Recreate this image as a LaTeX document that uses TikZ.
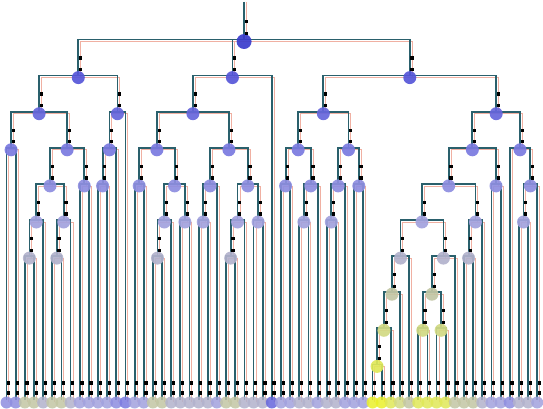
\documentclass[tikz,border=0pt]{standalone}
\usetikzlibrary{calc}
\definecolor{edgec}{HTML}{2A606C}
\definecolor{shadc}{HTML}{F0B0A2}
\definecolor{d0}{HTML}{3A3CCC}
\definecolor{d1}{HTML}{5656D8}
\definecolor{d2}{HTML}{6666DC}
\definecolor{d3}{HTML}{7A7AE0}
\definecolor{d4}{HTML}{8E8EE0}
\definecolor{d5}{HTML}{A2A2DE}
\definecolor{d6}{HTML}{B2B2CC}
\definecolor{d7}{HTML}{C2C6A4}
\definecolor{d8}{HTML}{D2DA84}
\definecolor{d9}{HTML}{E0E858}
\definecolor{d10}{HTML}{EAF02A}
\def\internals{root/244.05/0, A/78.3/1, A1/39.1/2, a3/11.1/3, a4/67.13/3, a5/49.98/4, a6/84.28/4, a7/36.25/5, a8/63.7/5, a9/29.4/6, a10/56.85/6, A2/117.45/2, a11/109.45/3, a12/102.6/4, B/232.4/1, B1/192.9/2, b1/156.9/3, b3/139.2/4, b4/174.6/4, b5/164.35/5, b6/184.9/5, b7/157.5/6, b2/228.95/3, b8/210.1/4, b10/203.2/5, b9/247.8/4, b11/237.55/5, b13/230.7/6, b12/258.1/5, C/409.8/1, C1/323.35/2, c1/298.2/3, c3/285.6/4, c4/310.75/4, c5/303.9/5, c2/348.5/3, c6/338.2/4, c8/331.3/5, c7/358.8/4, C2/496.2/2, c9/472.35/3, c11/448.7/4, c13/421.95/5, c15/400.5/6, c17/391.95/7, c18/383.95/8, c19/377.1/9, c16/443.4/6, c20/431.95/7, c21/422.8/8, c22/441.1/8, c14/475.45/5, c23/468.6/6, c12/496.0/4, c10/520.05/3, c24/530.35/4, c25/523.5/5}
\def\leafdepths{4,4,7,7,6,7,7,6,5,5,5,5,4,3,5,5,7,7,6,6,6,6,6,5,7,7,6,6,6,2,5,5,6,6,5,6,6,5,5,5,10,10,9,8,7,9,9,9,9,7,7,7,6,5,5,4,6,6,5}
\def\edges{root/A, root/B, root/C, A/A1, A/A2, A1/a3, A1/a4, a3/L0, a3/L1, a4/a5, a4/a6, a5/a7, a5/a8, a7/a9, a7/L4, a9/L2, a9/L3, a8/a10, a8/L7, a10/L5, a10/L6, a6/L8, a6/L9, A2/a11, A2/L13, a11/a12, a11/L12, a12/L10, a12/L11, B/B1, B/L29, B1/b1, B1/b2, b1/b3, b1/b4, b3/L14, b3/L15, b4/b5, b4/b6, b5/b7, b5/L18, b7/L16, b7/L17, b6/L19, b6/L20, b2/b8, b2/b9, b8/b10, b8/L23, b10/L21, b10/L22, b9/b11, b9/b12, b11/b13, b11/L26, b13/L24, b13/L25, b12/L27, b12/L28, C/C1, C/C2, C1/c1, C1/c2, c1/c3, c1/c4, c3/L30, c3/L31, c4/c5, c4/L34, c5/L32, c5/L33, c2/c6, c2/c7, c6/c8, c6/L37, c8/L35, c8/L36, c7/L38, c7/L39, C2/c9, C2/c10, c9/c11, c9/c12, c11/c13, c11/c14, c13/c15, c13/c16, c15/c17, c15/L44, c17/c18, c17/L43, c18/c19, c18/L42, c19/L40, c19/L41, c16/c20, c16/L49, c20/c21, c20/c22, c21/L45, c21/L46, c22/L47, c22/L48, c14/c23, c14/L52, c23/L50, c23/L51, c12/L53, c12/L54, c10/L55, c10/c24, c24/c25, c24/L58, c25/L56, c25/L57}
\begin{document}
\begin{tikzpicture}[x=1pt,y=-1pt,
  edge/.style={draw=edgec,line width=1.8pt},
  shad/.style={draw=shadc,line width=0.7pt},
  nd/.style={circle,inner sep=0pt,minimum size=13pt,draw=none,fill opacity=0.92},
  lf/.style={circle,inner sep=0pt,minimum size=12pt,draw=none,fill opacity=0.85},
  mk/.style={fill=black}]
\useasboundingbox (0,0) rectangle (543,409);
\fill[white] (0,0) rectangle (543,409);
% coordinates
\coordinate (top) at (244.05,2);
\foreach \n/\x/\k in \internals { \coordinate (\n) at (\x,{39.5+36.1*\k}); }
\foreach \d [count=\i from 0] in \leafdepths { \coordinate (L\i) at ({6.5+9.15*\i},400); }
% shadow lines
\draw[shad] ([shift={(2.3,0)}]top) -- ([shift={(2.3,0)}]root);
\foreach \p/\c in \edges { \draw[shad] ([shift={(2.3,2)}]\p) -| ([shift={(2.3,2)}]\c); }
% edges
\draw[edge] (top) -- (root);
\foreach \p/\c in \edges { \draw[edge] (\p) -| (\c); }
% node dots
\foreach \n/\x/\k in \internals { \node[nd,fill=d\k,minimum size={\k==0?15:13}] (\n-dot) at ([yshift=-2pt]\n) {}; }
\foreach \d [count=\i from 0] in \leafdepths { \node[lf,fill=d\d] (L\i-dot) at ([yshift=-2.5pt]L\i) {}; }
% marks
\foreach \n/\x/\k in \internals {
  \fill[mk] ([shift={(0.6,-19.2)}]\n) rectangle ++(3.2,3.2);
  \fill[mk] ([shift={(0.6,-7.6)}]\n) rectangle ++(3.2,3.2);
}
\foreach \d [count=\i from 0] in \leafdepths {
  \fill[mk] ([shift={(0.6,-18.6)}]L\i) rectangle ++(3.2,3.2);
  \fill[mk] ([shift={(0.6,-8.6)}]L\i) rectangle ++(3.2,3.2);
}
\end{tikzpicture}
\end{document}
